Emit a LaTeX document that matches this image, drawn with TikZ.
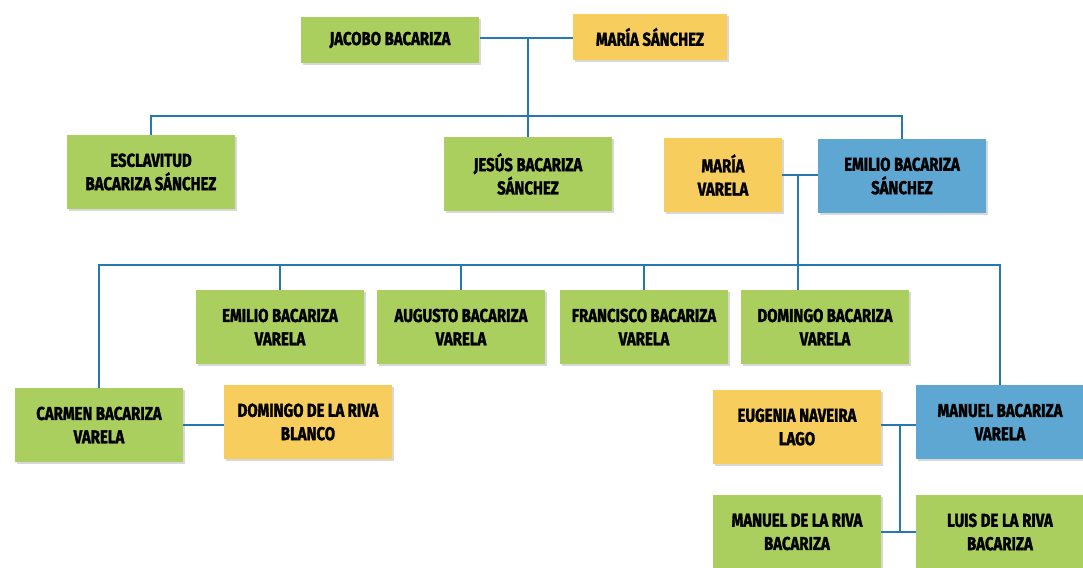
\documentclass[tikz,border=0pt]{standalone}
\usepackage{fontspec}
\setmainfont{Fira Sans}[FakeStretch=0.8,FakeBold=1.6]
\usetikzlibrary{shadows}
\definecolor{boxgreen}{RGB}{170,207,94}
\definecolor{boxyellow}{RGB}{247,206,94}
\definecolor{boxblue}{RGB}{93,167,210}
\definecolor{linkblue}{RGB}{38,120,180}
\newcommand\namefont{\fontsize{14}{17.5}\selectfont\bfseries}
\begin{document}
\begin{tikzpicture}[x=0.75pt,y=-0.75pt,
        person/.style={rectangle,inner sep=3pt,text width=120pt,align=center,minimum height=55.5pt,
            font=\namefont,execute at begin node={\spaceskip=2.4pt plus 0.5pt\relax},
            drop shadow={opacity=0.3,shadow xshift=1.5pt,shadow yshift=-1.5pt}},
        greenbox/.style={person,fill=boxgreen},
        yellowbox/.style={person,fill=boxyellow},
        bluebox/.style={person,fill=boxblue},
        link/.style={draw=linkblue,line width=2pt}]

    \useasboundingbox[fill=white] (0,0) rectangle (1083,568);

    % first generation
    \node[greenbox,text width=128pt,minimum height=34.5pt] (jacobo) at (390,40) {JACOBO BACARIZA};
    \node[yellowbox,text width=109pt,minimum height=34.5pt] (maria) at (650,37) {MARÍA SÁNCHEZ};

    % second generation
    \node[greenbox] (esclavitud) at (151,172) {ESCLAVITUD\\BACARIZA SÁNCHEZ};
    \node[greenbox] (jesus) at (528,174) {JESÚS BACARIZA\\SÁNCHEZ};
    \node[yellowbox,text width=82pt] (mvarela) at (723,175) {MARÍA\\VARELA};
    \node[bluebox] (emilios) at (902,176) {EMILIO BACARIZA\\SÁNCHEZ};

    % third generation
    \node[greenbox] (emiliov) at (280,327) {EMILIO BACARIZA\\VARELA};
    \node[greenbox] (augusto) at (461,327) {AUGUSTO BACARIZA\\VARELA};
    \node[greenbox] (francisco) at (644,327) {FRANCISCO BACARIZA\\VARELA};
    \node[greenbox] (domingov) at (825,327) {DOMINGO BACARIZA\\VARELA};
    \node[greenbox] (carmen) at (99,425) {CARMEN BACARIZA\\VARELA};
    \node[yellowbox] (domingor) at (308,422) {DOMINGO DE LA RIVA\\BLANCO};
    \node[yellowbox] (eugenia) at (797,427) {EUGENIA NAVEIRA\\LAGO};
    \node[bluebox] (manuelv) at (1000,422) {MANUEL BACARIZA\\VARELA};

    % fourth generation
    \node[greenbox] (manuelr) at (797,532) {MANUEL DE LA RIVA\\BACARIZA};
    \node[greenbox] (luis) at (1000,532) {LUIS DE LA RIVA\\BACARIZA};

    % junctions
    \coordinate (p1) at (528,38);
    \coordinate (r1) at (528,116);
    \coordinate (p2) at (798,175);
    \coordinate (r2) at (798,265);
    \coordinate (p3) at (900,425);
    \coordinate (r3) at (900,532);

    \draw[link] (jacobo.east |- p1) -- (maria.west |- p1);
    \draw[link] (p1) -- (jesus.north);
    \draw[link] (esclavitud.north) |- (r1) -| (emilios.north);
    \draw[link] (mvarela.east |- p2) -- (emilios.west |- p2);
    \draw[link] (p2) -- (domingov.north -| p2);
    \draw[link] (carmen.north) |- (r2) -| (manuelv.north);
    \foreach \n in {emiliov,augusto,francisco}
        \draw[link] (\n.north) -- (\n.north |- r2);
    \draw[link] (carmen.east) -- (carmen.east -| domingor.west);
    \draw[link] (eugenia.east |- p3) -- (manuelv.west |- p3);
    \draw[link] (p3) -- (r3);
    \draw[link] (manuelr.east |- r3) -- (luis.west |- r3);
\end{tikzpicture}
\end{document}
